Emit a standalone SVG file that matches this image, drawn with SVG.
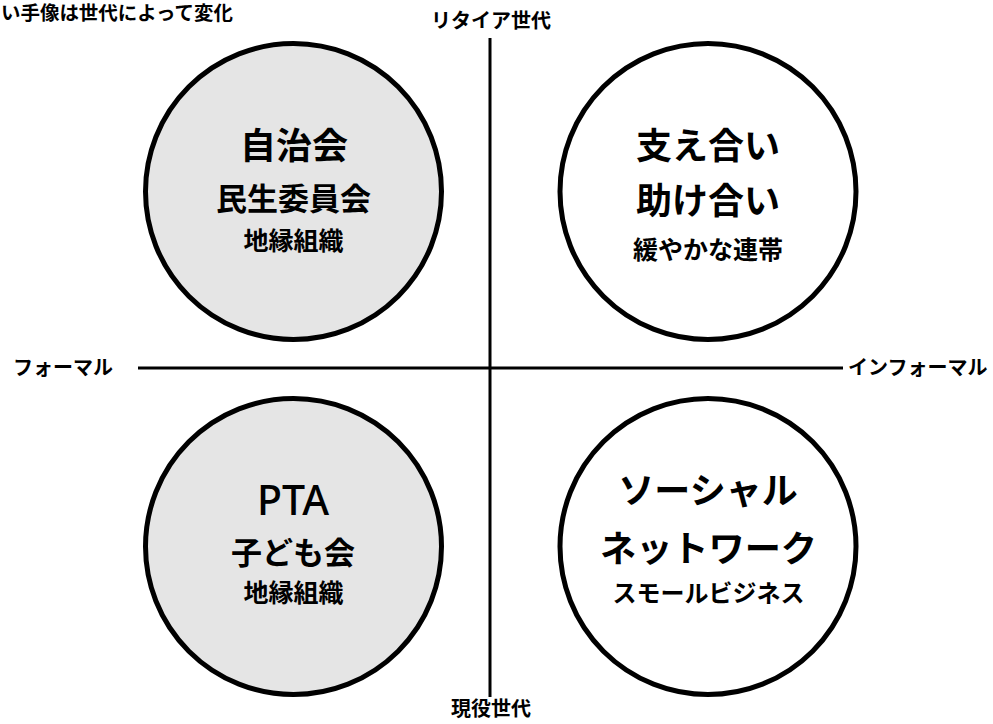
<svg xmlns="http://www.w3.org/2000/svg" width="993" height="724" viewBox="0 0 993 724">
<style>
text{font-family:"Noto Sans CJK JP","Noto Sans",sans-serif;font-weight:700;fill:#000;}
.c{text-anchor:middle;}
.ax{font-size:20px;}
.t1{font-size:36px;}
.t2{font-size:31px;}
.t3{font-size:25px;}
.gray{fill:#e5e5e5;stroke:#000;stroke-width:5;}
.white{fill:#fff;stroke:#000;stroke-width:5;}
.axis{stroke:#000;stroke-width:3;fill:none;}
</style>
<rect width="993" height="724" fill="#fff"/>
<text x="1" y="20" style="font-size:19px" textLength="232" lengthAdjust="spacingAndGlyphs">い手像は世代によって変化</text>
<g id="connectors">
<line class="axis" x1="490" y1="38" x2="490" y2="697"/>
<line class="axis" x1="138" y1="368" x2="843" y2="368"/>
</g>
<g id="axis-labels">
<text class="ax c" x="491" y="28">リタイア世代</text>
<text class="ax c" x="491" y="716">現役世代</text>
<text class="ax" x="13" y="375">フォーマル</text>
<text class="ax" x="848" y="375">インフォーマル</text>
</g>
<g id="node-tl">
<circle class="gray" cx="293.5" cy="191.5" r="148"/>
<text class="t1 c" x="294" y="159">自治会</text>
<text class="t2 c" x="293.5" y="210">民生委員会</text>
<text class="t3 c" x="293.5" y="250">地縁組織</text>
</g>
<g id="node-tr">
<circle class="white" cx="708" cy="191.5" r="148"/>
<text class="t1 c" x="708" y="159">支え合い</text>
<text class="t1 c" x="708" y="214">助け合い</text>
<text class="t3 c" x="708" y="259">緩やかな連帯</text>
</g>
<g id="node-bl">
<circle class="gray" cx="293.5" cy="546.5" r="148"/>
<text class="c" x="293" y="515" style="font-family:'Noto Sans','Liberation Sans',sans-serif;font-weight:500;font-size:41px">PTA</text>
<text class="t2 c" x="293" y="564">子ども会</text>
<text class="t3 c" x="293.5" y="602">地縁組織</text>
</g>
<g id="node-br">
<circle class="white" cx="708" cy="546.5" r="148"/>
<text class="t1 c" x="708" y="504">ソーシャル</text>
<text class="t1 c" x="708.5" y="562" textLength="217" lengthAdjust="spacingAndGlyphs">ネットワーク</text>
<text class="c" x="708.5" y="602" style="font-size:24px">スモールビジネス</text>
</g>
</svg>
